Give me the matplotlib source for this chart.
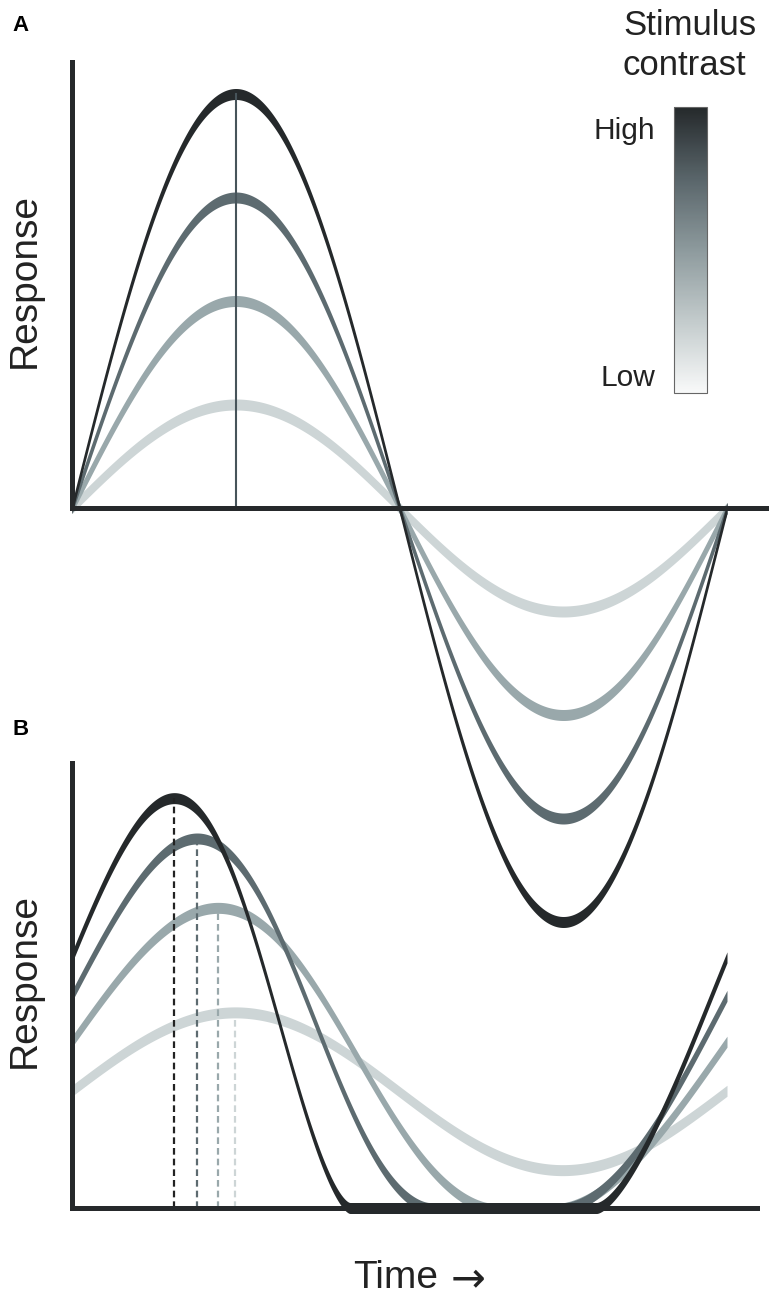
import numpy as np
import matplotlib
matplotlib.use('Agg')
import matplotlib.pyplot as plt
from matplotlib.colors import LinearSegmentedColormap, Normalize
from matplotlib.cm import ScalarMappable

plt.rcParams['font.family'] = ['Liberation Sans', 'DejaVu Sans']

# four stimulus contrasts, high -> low
colors = ['#25292b', '#5d6b70', '#99a8ab', '#cdd5d6']
amp_a = [4, 3, 2, 1]                 # panel A: response amplitude (linear)
peak_b = [0.156, 0.191, 0.223, 0.249]  # panel B: time of peak (cycles)
height_b = [3.96, 3.57, 2.90, 1.89]   # panel B: peak response
offset_b = [0.33, 0.78, 0.93, 1.48]   # panel B: offset before rectification
skew_b = [0.20, 0.15, 0.10, 0.0]      # panel B: phase advance / skew
power_b = [1.5, 1.5, 1.2, 1.0]        # panel B: expansive exponent
bar_labels = ['High', 'Low']

W, H = 774, 1300
U = 103.5      # px per response unit
P = 655.0      # px per cycle
X0 = 72        # px of time 0
hw = 5.5 / U   # half thickness of the strokes
axis_col = '#26292b'
txt_col = '#222222'

fig = plt.figure(figsize=(W / 100, H / 100), dpi=100)


def px_axes(x0, x1, y0, y1):
    ax = fig.add_axes([x0 / W, 1 - y1 / H, (x1 - x0) / W, (y1 - y0) / H])
    ax.set_facecolor('none')
    ax.set_xticks([])
    ax.set_yticks([])
    for s in ['top', 'right']:
        ax.spines[s].set_visible(False)
    for s in ['left', 'bottom']:
        ax.spines[s].set_linewidth(3.6)
        ax.spines[s].set_color(axis_col)
        ax.spines[s].set_capstyle('projecting')
        ax.spines[s].set_zorder(4)
    ax.spines['bottom'].set_position(('data', 0))
    return ax


t = np.linspace(0, 1, 800)

# ---- panel A
axA = px_axes(X0, X0 + 700, 50, 940)
axA.set_xlim(0, 700 / P)
axA.set_ylim((508 - 940) / U, (508 - 50) / U)
axA.spines['left'].set_bounds(0, (508 - 62) / U)
axA.spines['bottom'].set_bounds(0, (766 - X0) / P)
for a, c in list(zip(amp_a, colors))[::-1]:
    y = a * np.sin(2 * np.pi * t)
    axA.fill_between(t, y - hw, y + hw, color=c, lw=0, zorder=2)
axA.plot([0.25, 0.25], [0, amp_a[0]], color='#47545a', lw=1.5, zorder=3)

# ---- panel B
axB = px_axes(X0, X0 + 700, 745, 1225)
axB.set_xlim(0, 700 / P)
axB.set_ylim((1208 - 1225) / U, (1208 - 745) / U)
axB.spines['left'].set_bounds(0, (1208 - 763) / U)
axB.spines['bottom'].set_bounds(0, (757 - X0) / P)
for i in range(3, -1, -1):
    phi = 2 * np.pi * (t - peak_b[i])
    psi = phi + skew_b[i] * (1 - np.cos(phi))
    k = height_b[i] / (1 + offset_b[i]) ** power_b[i]
    y = k * np.clip(np.cos(psi) + offset_b[i], 0, None) ** power_b[i]
    axB.fill_between(t, y - hw, y + hw, color=colors[i], lw=0, zorder=2)
for i in range(4):
    dc = '#222' if i == 0 else colors[i]
    axB.plot([peak_b[i], peak_b[i]], [0, height_b[i]], color=dc, lw=1.6,
             dashes=(3.0, 1.8), zorder=3)

# axis titles
fig.text(25 / W, 1 - 280 / H, 'Response', rotation=90, ha='center',
         va='center', fontsize=28, color=txt_col)
fig.text(25 / W, 1 - 980 / H, 'Response', rotation=90, ha='center',
         va='center', fontsize=28, color=txt_col)
fig.text(353 / W, 1 - 1288 / H, 'Time', ha='left', va='baseline',
         fontsize=28, color=txt_col)
fig.text(451 / W, 1 - 1291 / H, '\u2192', ha='left', va='baseline',
         fontsize=30, color=txt_col, family='DejaVu Sans')

# ---- colour bar
cmap = LinearSegmentedColormap.from_list(
    'contrast', ['#f8f9f9', '#c3cbcc', '#8d9a9d', '#59656a', '#25292b'])
cax = fig.add_axes([674 / W, 1 - 393 / H, 33 / W, 286 / H])
cb = fig.colorbar(ScalarMappable(norm=Normalize(0, 1), cmap=cmap), cax=cax)
cb.set_ticks([])
cb.outline.set_edgecolor('#666')
cb.outline.set_linewidth(0.8)

fig.text(655 / W, 1 - 139 / H, bar_labels[0], ha='right', va='baseline',
         fontsize=21.5, color=txt_col)
fig.text(655 / W, 1 - 386 / H, bar_labels[1], ha='right', va='baseline',
         fontsize=21.5, color=txt_col)
fig.text(623 / W, 1 - 35 / H, 'Stimulus', ha='left', va='baseline',
         fontsize=25, color=txt_col)
fig.text(623 / W, 1 - 75 / H, 'contrast', ha='left', va='baseline',
         fontsize=25, color=txt_col)

fig.text(12 / W, 1 - 31 / H, 'A', fontsize=16, fontweight='bold', va='baseline')
fig.text(12 / W, 1 - 735 / H, 'B', fontsize=16, fontweight='bold', va='baseline')

fig.savefig('out.png', dpi=100, facecolor='white')
